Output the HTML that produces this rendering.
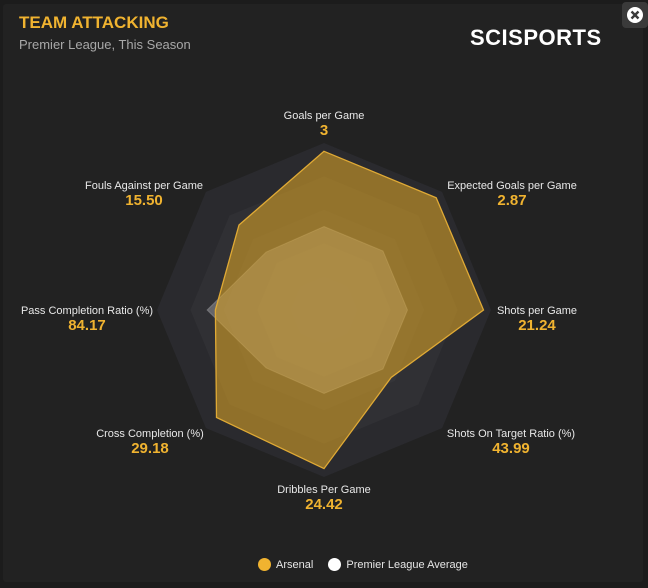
<!DOCTYPE html>
<html><head><meta charset="utf-8"><style>
html,body{margin:0;padding:0;background:#1c1c1c;}
body{width:648px;height:588px;position:relative;overflow:hidden;font-family:"Liberation Sans",sans-serif;}
#card{position:absolute;left:3px;top:4px;width:640px;height:578px;background:#222222;border-radius:3px;}
#title{position:absolute;left:19px;top:13px;color:#f0b330;font-weight:bold;font-size:17px;letter-spacing:0px;}
#sub{position:absolute;left:19px;top:37px;color:#a8a8a8;font-size:13px;}
#logo{position:absolute;left:470px;top:25px;color:#fff;font-weight:bold;font-size:22px;letter-spacing:0.5px;}
#close{position:absolute;left:622px;top:2px;width:26px;height:26px;background:#3a3a3a;border-radius:4px;}
.lbl{position:absolute;transform:translateX(-50%);text-align:center;white-space:nowrap;}
.lbl .n{color:#e8e8e8;font-size:11px;line-height:13px;}
.lbl .v{color:#f0b330;font-size:15px;font-weight:bold;line-height:16px;}
#legend{position:absolute;top:558px;left:258px;font-size:11px;color:#e6e6e6;}
.dot{display:inline-block;width:13px;height:13px;border-radius:50%;vertical-align:-3px;margin-right:5px;}
</style></head><body>
<div id="card"></div>
<div id="title">TEAM ATTACKING</div>
<div id="sub">Premier League, This Season</div>
<div id="logo">SCISPORTS</div>
<div id="close"><svg width="26" height="26"><circle cx="13" cy="13" r="8" fill="#fff"/><path d="M9.5 9.5L16.5 16.5M16.5 9.5L9.5 16.5" stroke="#3a3a3a" stroke-width="2.4"/></svg></div>
<svg id="radar" width="648" height="588" style="position:absolute;left:0;top:0"></svg>
<div id="labels"></div>
<div id="legend">
<span><span class="dot" style="background:#f0b330"></span>Arsenal</span>
<span style="margin-left:12px"><span class="dot" style="background:#fff"></span>Premier League Average</span>
</div>
<script>
const categories = ["Goals per Game","Expected Goals per Game","Shots per Game","Shots On Target Ratio (%)","Dribbles Per Game","Cross Completion (%)","Pass Completion Ratio (%)","Fouls Against per Game"];
const displayValues = ["3","2.87","21.24","43.99","24.42","29.18","84.17","15.50"];
const arsenalScores = [0.95,0.95,0.955,0.57,0.95,0.91,0.65,0.72];
const leagueScores = [0.5,0.5,0.5,0.5,0.5,0.49,0.7,0.49];
const ringLevels = [1,0.8,0.6,0.4,0.2];

const cx=324, cy=310, R=167;
const NS="http://www.w3.org/2000/svg";
const svg=document.getElementById('radar');
function ang(i){return -Math.PI/2 + i*2*Math.PI/categories.length;}
function pt(i,s){return [cx+Math.cos(ang(i))*R*s, cy+Math.sin(ang(i))*R*s];}
function poly(scores){return scores.map((s,i)=>pt(i,s).map(v=>v.toFixed(1)).join(',')).join(' ');}
const ringColors=["#2a2a2e","#303034","#353539","#39393e","#3d3d42"];
ringLevels.forEach((l,k)=>{
  const p=document.createElementNS(NS,'polygon');
  p.setAttribute('points',poly(categories.map(()=>l)));
  p.setAttribute('fill',ringColors[k]);
  
  
  svg.appendChild(p);
});
const lg=document.createElementNS(NS,'polygon');
lg.setAttribute('points',poly(leagueScores));
lg.setAttribute('fill','rgba(200,200,210,0.35)');
lg.setAttribute('stroke','rgba(230,230,230,0.25)');


svg.appendChild(lg);
const ar=document.createElementNS(NS,'polygon');
ar.setAttribute('points',poly(arsenalScores));
ar.setAttribute('fill','rgba(214,160,40,0.6)');
ar.setAttribute('stroke','#e0aa35');
ar.setAttribute('stroke-width','1.3');


svg.appendChild(ar);

const labelPos=[[324,110],[512,180],[537,305],[511,428],[324,484],[150,428],[87,305],[144,180]];
const lc=document.getElementById('labels');
categories.forEach((c,i)=>{
  const d=document.createElement('div');
  d.className='lbl';
  d.style.left=labelPos[i][0]+'px';
  d.style.top=labelPos[i][1]+'px';
  
  
  d.innerHTML='<div class="n">'+c+'</div><div class="v">'+displayValues[i]+'</div>';
  lc.appendChild(d);
});
</script>
</body></html>
